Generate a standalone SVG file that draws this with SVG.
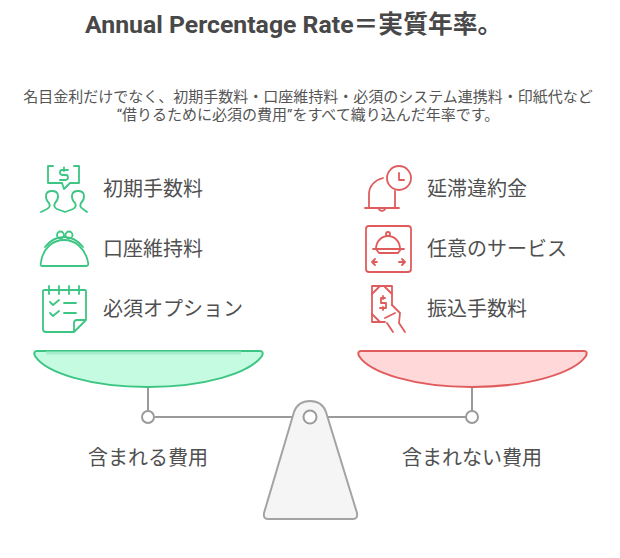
<svg xmlns="http://www.w3.org/2000/svg" width="620" height="558" viewBox="0 0 620 558">
<style>
text{font-family:"Roboto","Noto Sans CJK JP",sans-serif;fill:#505050}
.t{font-size:20px}
.d{font-size:15px;text-anchor:middle;fill:#555}
.l{font-size:20px;text-anchor:middle}
.g,.r{fill:none;stroke-width:1.8;stroke-linecap:round;stroke-linejoin:round}
.g{stroke:#3cc583}.r{stroke:#e05c5c}
.s{fill:none;stroke:#9a9a9a;stroke-width:2}
</style>
<rect width="620" height="558" fill="#fff"/>
<g id="title"><text x="85" y="33" font-size="24.800" font-weight="700" style="fill:#484848">Annual Percentage Rate＝実質年率。</text></g>
<g id="desc">
<text class="d" x="308" y="102">名目金利だけでなく、初期手数料・口座維持料・必須のシステム連携料・印紙代など</text>
<text class="d" x="308" y="120">“借りるために必須の費用”をすべて織り込んだ年率です。</text>
</g>
<g id="connectors">
<path class="s" d="M148 387V411M155 417H297M328 417H466M472 387V411"/>
</g>
<g id="fulcrum">
<path d="M294 412Q298 401 310 401Q322 401 326 412L357 513Q358 519 353 519H268Q263 519 264 513Z" fill="#f5f5f5" stroke="#a3a3a3" stroke-width="2"/>
<circle cx="310" cy="417" r="6.500" fill="#fff" stroke="#9a9a9a" stroke-width="2"/>
</g>
<g id="pivot-left"><circle cx="148" cy="417" r="6" fill="#fff" stroke="#9a9a9a" stroke-width="2"/></g>
<g id="pivot-right"><circle cx="472" cy="417" r="6" fill="#fff" stroke="#9a9a9a" stroke-width="2"/></g>
<g id="pan-left">
<path d="M37 351H260Q264 351 262 356C250 373 205 387 148 387C91 387 46 373 35 356Q33 351 37 351Z" fill="#c4fbe1" stroke="#3cc583" stroke-width="2"/>
<path d="M46 353H241" fill="none" stroke="#a5eccb" stroke-width="3"/>
</g>
<g id="pan-right">
<path d="M361 351H584Q588 351 586 356C574 373 529 387 472 387C415 387 370 373 359 356Q357 351 361 351Z" fill="#ffd9d9" stroke="#e05c5c" stroke-width="2"/>
</g>
<g id="label-left"><text class="l" x="148" y="465">含まれる費用</text></g>
<g id="label-right"><text class="l" x="472" y="465">含まれない費用</text></g>

<g id="icon-initial" class="g">
<path d="M53 166H48V183H62L64 189L70 183H79V166H74"/>
<path d="M68 170H62Q60 170 60 172.500Q60 175 63 175H66Q68 175 68 177.500Q68 180 65 180H60M64 167.500V171"/>
<path d="M41 212L47 209Q51 207 49 203C45 199 44 191 52 191C60 191 59 199 55 203Q53 207 57 209L65 212L73 209Q77 207 75 203C71 199 70 191 78 191C86 191 85 199 81 203Q79 207 83 209L87 212"/>
</g>
<g id="label-initial"><text class="t" x="103" y="196">初期手数料</text></g>

<g id="icon-account" class="g">
<path d="M42 266H86Q89 266 88 262C85 248 75 240 64 240C53 240 43 248 41 262Q40 266 42 266Z"/>
<path d="M45 247Q53 237 64 237Q75 237 83 247"/>
<circle cx="60.500" cy="235" r="3.500"/><circle cx="69" cy="235" r="3.500"/>
</g>
<g id="label-account"><text class="t" x="103" y="256">口座維持料</text></g>

<g id="icon-option" class="g">
<path d="M74 332H46Q43 332 43 329V291Q43 290 45 290H85Q86 290 86 291V320L74 332V323Q74 320 77 320H86"/>
<path d="M49 286V294M59 286V294M69 286V294M79 286V294"/>
<path d="M50 302L53 305L59 300M50 313L53 316L59 311M64 303H76M64 313H76"/>
</g>
<g id="label-option"><text class="t" x="103" y="316">必須オプション</text></g>

<g id="icon-late" class="r">
<path d="M365 208H399M369 207V194C369 186 375 180 383 178M395 191V207"/>
<path d="M378 208Q382 214 386 208"/>
<circle cx="399" cy="178" r="12"/>
<path d="M399 173V180H404"/>
</g>
<g id="label-late"><text class="t" x="427" y="196">延滞違約金</text></g>

<g id="icon-service" class="r">
<rect x="366" y="226" width="45" height="46" rx="3"/>
<circle cx="388" cy="234" r="2"/>
<path d="M376 249C376 241 382 236 388 236C394 236 400 241 400 249M373 249H404M376 249L379 253H398L401 249"/>
<path d="M372 262H377M372 262L375 259M372 262L375 265M399 262H405M405 262L402 259M405 262L402 265"/>
</g>
<g id="label-service"><text class="t" x="427" y="256">任意のサービス</text></g>

<g id="icon-transfer" class="r">
<path d="M392 305V286H372V322H385"/>
<path d="M372 294L380 286M384 286L392 294M372 314L380 322"/>
<path d="M385 298H381V303H386V308H380M383 296V299M383 307V310"/>
<path d="M385 318L395 313M392 305L400 313L399 323L405 332M387 323L393 332"/>
</g>
<g id="label-transfer"><text class="t" x="427" y="316">振込手数料</text></g>
</svg>
